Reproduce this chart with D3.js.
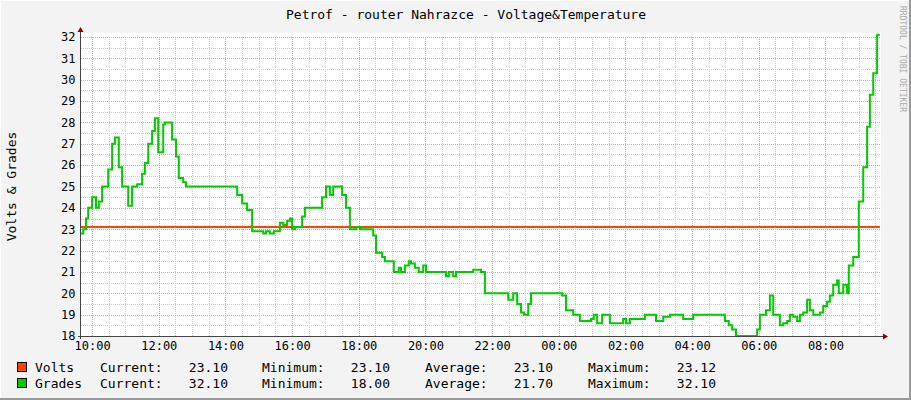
<!DOCTYPE html>
<html><head><meta charset="utf-8">
<script src="https://cdn.jsdelivr.net/npm/d3@7"></script>
<style>body{margin:0;background:#f3f3f3}svg{display:block;font-family:"DejaVu Sans Mono",monospace}</style>
</head><body><svg id="chart"></svg>
<script>
// minutes elapsed since 09:40 and temperature readings (step line)
const gradesMinutes = [0,4,9,13,20,27,32,38,49,56,61,68,74,85,92,101,110,115,121,128,133,139,148,151,164,171,176,184,189,281,290,299,308,328,333,340,347,358,364,371,376,380,385,398,403,434,441,448,454,470,477,484,495,502,526,531,542,547,563,572,576,583,590,594,601,608,616,621,657,662,670,675,706,720,727,769,778,785,792,797,805,810,866,873,886,898,918,923,929,938,952,965,976,981,988,1015,1035,1048,1060,1084,1102,1159,1166,1172,1179,1217,1222,1233,1240,1246,1258,1264,1271,1276,1282,1289,1294,1300,1307,1312,1318,1330,1336,1343,1348,1354,1361,1364,1372,1379,1382,1390,1400,1408,1415,1420,1426,1433,1438];
const gradesValues = [22.8,23.0,23.5,24.0,24.5,24.0,24.3,25.0,25.8,27.0,27.3,25.9,25.0,24.1,25.0,25.1,25.6,26.1,27.0,27.6,28.2,26.6,27.9,28.0,27.2,26.4,25.4,25.2,25.0,24.6,24.2,23.9,22.9,22.8,22.9,22.8,22.9,23.3,23.2,23.4,23.5,23.0,23.1,23.6,24.0,24.5,25.0,24.6,25.0,24.6,24.0,23.0,23.1,23.0,22.7,21.9,21.7,21.5,21.0,21.2,21.0,21.3,21.5,21.4,21.2,21.0,21.3,21.0,20.8,21.0,20.8,21.0,21.1,21.0,20.0,19.7,20.0,19.5,19.1,19.0,19.5,20.0,19.9,19.2,19.0,18.7,18.8,19.0,18.6,19.0,18.6,18.6,18.8,18.6,18.8,19.0,18.7,18.9,19.0,18.8,19.0,18.7,18.5,18.3,18.0,18.3,19.0,19.2,19.9,19.0,18.5,18.6,18.7,19.0,18.9,18.7,19.0,19.1,19.7,19.2,19.0,19.1,19.4,19.6,19.9,20.4,20.6,20.0,20.4,20.0,21.3,21.7,24.3,25.9,27.8,29.3,30.3,32.1,32.1];
const voltsMinutes = [0,1438];
const voltsValues = [23.1,23.1];
const legendRows = [
  {name:"Volts", color:"#ff4400", stats:["23.10","23.10","23.10","23.12"]},
  {name:"Grades", color:"#00cc00", stats:["32.10","18.00","21.70","32.10"]}
];
const statLabels = ["Current:","Minimum:","Average:","Maximum:"];

const W = 911, H = 400;
const pL = 81, pR = 881, pT = 37, pB = 336;
const t0 = new Date(2020,0,1,9,40);
const toDate = m => new Date(t0.getTime() + m*60000);

const svg = d3.select("#chart").attr("width", W).attr("height", H);
svg.append("rect").attr("width", W).attr("height", H).attr("fill", "#f3f3f3");
svg.append("path").attr("d", `M0.5,${H-1}V0.5H${W-1}`).attr("fill","none").attr("stroke","#fff");
svg.append("path").attr("d", `M${W-1},0V${H-1}H0`).attr("fill","none").attr("stroke","#999").attr("stroke-width",2);

const x = d3.scaleTime().domain([t0, toDate(1440)]).range([pL, pR]);
const y = d3.scaleLinear().domain([18, 32]).range([pB, pT]);

svg.append("rect").attr("x", pL).attr("y", pT - 4).attr("width", pR - pL).attr("height", pB - pT + 4).attr("fill", "#fff");

const g = svg.append("g").attr("shape-rendering", "crispEdges");
// minor grid
d3.range(18, 32.01, 0.5).filter(v => v % 1).forEach(v =>
  g.append("line").attr("x1", pL).attr("x2", pR).attr("y1", Math.round(y(v)) + .5).attr("y2", Math.round(y(v)) + .5)
    .attr("stroke", "#ccc").attr("stroke-dasharray", "1,1"));
x.ticks(d3.timeMinute.every(30)).forEach(t =>
  g.append("line").attr("y1", pT).attr("y2", pB).attr("x1", Math.round(x(t)) + .5).attr("x2", Math.round(x(t)) + .5)
    .attr("stroke", "#ccc").attr("stroke-dasharray", "1,1"));
// major grid
d3.range(19, 33).forEach(v =>
  g.append("line").attr("x1", pL).attr("x2", pR).attr("y1", Math.round(y(v)) + .5).attr("y2", Math.round(y(v)) + .5)
    .attr("stroke", "#e5a0a0").attr("stroke-dasharray", "1,1"));
const majors = x.ticks(d3.timeHour.every(2));
majors.forEach(t =>
  g.append("line").attr("y1", pT).attr("y2", pB).attr("x1", Math.round(x(t)) + .5).attr("x2", Math.round(x(t)) + .5)
    .attr("stroke", "#f0a0a0").attr("stroke-dasharray", "1,1"));

// axes
const xAxis = svg.append("g").attr("transform", `translate(0,${pB + .5})`)
  .call(d3.axisBottom(x).tickValues(majors).tickFormat(d3.timeFormat("%H:%M")).tickSize(0).tickPadding(5));
xAxis.select(".domain").remove();
xAxis.selectAll("text").attr("font-size", 12).attr("fill", "#000").attr("font-family", "DejaVu Sans Mono");
const yAxis = svg.append("g").attr("transform", `translate(${pL - .5},0)`)
  .call(d3.axisLeft(y).ticks(14).tickFormat(d3.format("d")).tickSize(0).tickPadding(5));
yAxis.select(".domain").remove();
yAxis.selectAll("text").attr("font-size", 12).attr("fill", "#000").attr("font-family", "DejaVu Sans Mono");

// data lines
const line = d3.line().x(d => x(toDate(d[0]))).y(d => y(d[1])).curve(d3.curveStepAfter);
svg.append("path").datum(d3.zip(voltsMinutes, voltsValues)).attr("d", line)
  .attr("fill", "none").attr("stroke", "#ff4400").attr("stroke-width", 2);
svg.append("path").datum(d3.zip(gradesMinutes, gradesValues)).attr("d", line)
  .attr("fill", "none").attr("stroke", "#00cc00").attr("stroke-width", 2);

// axis lines with arrows
svg.append("path").attr("d", `M${pL-3},${pB+.5}H${pR+2}`).attr("stroke", "#444").attr("shape-rendering","crispEdges");
svg.append("path").attr("d", `M${pL-.5},${pB+3}V${pT-5}`).attr("stroke", "#444").attr("shape-rendering","crispEdges");
svg.append("path").attr("d", `M${pR+2},${pB-2.5}l5,3l-5,3Z`).attr("fill", "#800");
svg.append("path").attr("d", `M${pL-3.5},${pT-5}l3,-5l3,5Z`).attr("fill", "#800");

// texts
svg.append("text").attr("x", (pL + pR) / 2 - 15).attr("y", 19).attr("text-anchor", "middle")
  .attr("font-size", 13).text("Petrof - router Nahrazce - Voltage&Temperature");
svg.append("text").attr("transform", `translate(16,${(pT + pB) / 2}) rotate(-90)`).attr("text-anchor", "middle")
  .attr("font-size", 13).text("Volts & Grades");
svg.append("text").attr("transform", `translate(900,6) rotate(90)`).attr("font-size", 8).attr("fill", "#aaa")
  .text("RRDTOOL / TOBI OETIKER");

// legend
const statX = [100, 262, 425, 588], valEnd = [228, 390, 553, 716];
legendRows.forEach((r, i) => {
  const ly = 372 + i * 16;
  svg.append("rect").attr("x", 17.5).attr("y", ly - 9.5).attr("width", 9).attr("height", 9)
    .attr("fill", r.color).attr("stroke", "#000").attr("shape-rendering","crispEdges");
  svg.append("text").attr("x", 35).attr("y", ly).attr("font-size", 13).text(r.name);
  r.stats.forEach((s, j) => {
    svg.append("text").attr("x", statX[j]).attr("y", ly).attr("font-size", 13).text(statLabels[j]);
    svg.append("text").attr("x", valEnd[j]).attr("y", ly).attr("font-size", 13).attr("text-anchor", "end").text(s);
  });
});
</script></body></html>
